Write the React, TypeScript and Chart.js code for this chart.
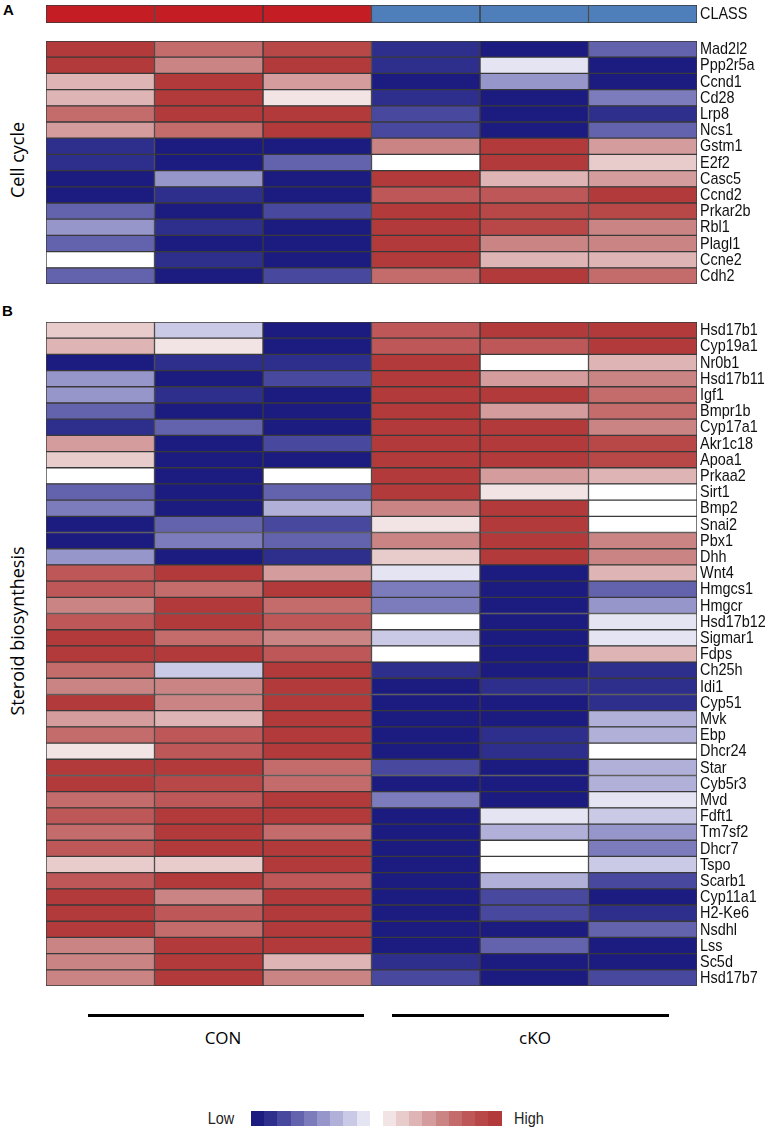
import React, { useEffect, useRef } from "react";
import { Chart, registerables } from "chart.js";

Chart.register(...registerables);

// ---------- data ----------
const SAMPLES = ["CON1", "CON2", "CON3", "cKO1", "cKO2", "cKO3"];
const CLASS_LABELS = ["CLASS"];
const CLASS_GROUPS = ["CON", "CON", "CON", "cKO", "cKO", "cKO"];

const CELL_CYCLE_GENES = [
  "Mad2l2", "Ppp2r5a", "Ccnd1", "Cd28", "Lrp8", "Ncs1", "Gstm1", "E2f2",
  "Casc5", "Ccnd2", "Prkar2b", "Rbl1", "Plagl1", "Ccne2", "Cdh2",
];
// expression level per sample, -9 (low) .. 9 (high)
const CELL_CYCLE_VALUES = [
  [9, 6, 8, -8, -9, -6],
  [9, 5, 9, -8, -1, -9],
  [3, 9, 4, -9, -4, -9],
  [3, 9, 1, -8, -9, -5],
  [6, 9, 9, -7, -9, -8],
  [4, 6, 9, -7, -9, -6],
  [-8, -9, -9, 5, 9, 4],
  [-8, -9, -6, 0, 9, 2],
  [-9, -4, -9, 9, 3, 4],
  [-9, -8, -9, 7, 7, 9],
  [-6, -9, -7, 9, 8, 8],
  [-4, -8, -9, 9, 8, 5],
  [-6, -9, -9, 9, 5, 5],
  [0, -8, -9, 9, 3, 3],
  [-6, -9, -7, 6, 9, 6],
];

const STEROID_GENES = [
  "Hsd17b1", "Cyp19a1", "Nr0b1", "Hsd17b11", "Igf1", "Bmpr1b", "Cyp17a1",
  "Akr1c18", "Apoa1", "Prkaa2", "Sirt1", "Bmp2", "Snai2", "Pbx1", "Dhh",
  "Wnt4", "Hmgcs1", "Hmgcr", "Hsd17b12", "Sigmar1", "Fdps", "Ch25h", "Idi1",
  "Cyp51", "Mvk", "Ebp", "Dhcr24", "Star", "Cyb5r3", "Mvd", "Fdft1", "Tm7sf2",
  "Dhcr7", "Tspo", "Scarb1", "Cyp11a1", "H2-Ke6", "Nsdhl", "Lss", "Sc5d",
  "Hsd17b7",
];
const STEROID_VALUES = [
  [2, -2, -9, 7, 9, 9],
  [3, 1, -9, 7, 7, 9],
  [-9, -8, -8, 9, 0, 3],
  [-4, -9, -7, 9, 4, 5],
  [-4, -8, -9, 9, 9, 6],
  [-6, -9, -9, 9, 4, 6],
  [-8, -6, -9, 9, 9, 5],
  [4, -9, -7, 9, 9, 8],
  [2, -9, -9, 9, 9, 8],
  [0, -9, 0, 9, 4, 3],
  [-6, -9, -6, 9, 1, 0],
  [-5, -9, -3, 5, 9, 0],
  [-9, -6, -7, 1, 9, 0],
  [-9, -5, -6, 5, 9, 5],
  [-4, -9, -8, 2, 9, 5],
  [7, 9, 4, -1, -9, 3],
  [7, 6, 9, -5, -9, -6],
  [5, 9, 6, -5, -9, -4],
  [7, 9, 7, 0, -9, -1],
  [9, 6, 5, -2, -9, -1],
  [9, 9, 7, 0, -9, 3],
  [6, -2, 9, -8, -9, -8],
  [5, 5, 9, -9, -8, -8],
  [9, 5, 9, -9, -9, -8],
  [4, 3, 9, -9, -9, -3],
  [6, 7, 9, -9, -8, -3],
  [1, 7, 9, -9, -8, 0],
  [9, 9, 6, -7, -9, -3],
  [9, 8, 6, -9, -9, -3],
  [6, 7, 9, -5, -9, -1],
  [7, 9, 9, -9, -1, -2],
  [6, 9, 6, -9, -3, -4],
  [7, 9, 9, -9, 0, -5],
  [2, 2, 9, -9, 0, -2],
  [7, 9, 7, -9, -3, -7],
  [9, 5, 9, -9, -7, -9],
  [9, 7, 9, -9, -7, -8],
  [9, 6, 9, -9, -9, -6],
  [5, 9, 9, -9, -6, -9],
  [5, 9, 3, -8, -9, -9],
  [5, 9, 5, -7, -9, -7],
];

// colour scale from level -9 to 9
const PALETTE = [
  "#1b1b80", "#2e2e8c", "#48489e", "#6262ad", "#7c7cbc", "#9696ca",
  "#b0b0d8", "#cacae6", "#e4e4f2", "#ffffff", "#f2e4e4", "#e8cccc",
  "#deb4b4", "#d49c9c", "#ca8484", "#c46c6c", "#be5858", "#b84848",
  "#b33a3a",
];
const CLASS_COLORS: Record<string, string> = { CON: "#c41e24", cKO: "#4f7fba" };

const SANS = "'Liberation Sans', Arial, sans-serif";
const TITLE_FONT = "'Open Sans', 'Noto Sans', sans-serif";
const BORDER = "#3a3a3a";
const NARROW = 0.85;

const colorFor = (v: number) => PALETTE[Math.max(0, Math.min(18, v + 9))];

const narrowLabels = {
  id: "narrowLabels",
  afterDraw(chart: any) {
    const ys = chart.scales.y;
    const ctx = chart.ctx;
    ctx.save();
    ctx.font = `17px ${SANS}`;
    ctx.fillStyle = "#111";
    ctx.textBaseline = "middle";
    ctx.textAlign = "left";
    const x0 = chart.chartArea.right + 3;
    ys.ticks.forEach((_t: any, i: number) => {
      const y = ys.getPixelForTick(i);
      ctx.save();
      ctx.translate(x0, y + 0.5);
      ctx.scale(NARROW, 1);
      ctx.fillText(String(chart.data.labels[i]), 0, 0);
      ctx.restore();
    });
    ctx.restore();
  },
};

type HeatProps = {
  labels: string[];
  colors: string[][]; // [row][col]
  top: number;
  height: number;
};

function HeatChart({ labels, colors, top, height }: HeatProps) {
  const ref = useRef<HTMLCanvasElement | null>(null);
  useEffect(() => {
    if (!ref.current) return;
    const chart = new Chart(ref.current, {
      type: "bar",
      data: {
        labels,
        datasets: SAMPLES.map((s, j) => ({
          label: s,
          data: labels.map(() => 1),
          backgroundColor: colors.map((r) => r[j]),
          borderColor: BORDER,
          borderWidth: 1,
          borderSkipped: false,
          barPercentage: 1,
          categoryPercentage: 1,
        })),
      },
      options: {
        indexAxis: "y",
        animation: false,
        responsive: false,
        maintainAspectRatio: false,
        events: [],
        layout: { padding: { top: 1, bottom: 1, left: 1, right: 0 } },
        plugins: { legend: { display: false }, tooltip: { enabled: false } },
        scales: {
          x: { stacked: true, min: 0, max: SAMPLES.length, display: false },
          y: {
            stacked: true,
            position: "right",
            grid: { display: false },
            border: { display: false },
            ticks: { display: false, autoSkip: false },
            afterFit: (s: any) => {
              s.width = 71;
              s.paddingTop = 0;
              s.paddingBottom = 0;
            },
          },
        },
      },
      plugins: [narrowLabels],
    } as any);
    return () => chart.destroy();
  }, []);
  return (
    <canvas
      ref={ref}
      width={723}
      height={height}
      style={{ position: "absolute", left: 45, top, width: 723, height }}
    />
  );
}

const vText = (txt: string, cx: number, cy: number) => (
  <div
    style={{
      position: "absolute",
      left: cx,
      top: cy,
      transform: "translate(-50%, -50%) rotate(-90deg)",
      whiteSpace: "nowrap",
      fontFamily: TITLE_FONT,
      fontSize: 18,
      color: "#000",
      lineHeight: 1,
    }}
  >
    {txt}
  </div>
);

const narrowHtml = (txt: string, style: React.CSSProperties, origin: string) => (
  <div
    style={{
      position: "absolute",
      fontFamily: SANS,
      fontSize: 17,
      color: "#222",
      whiteSpace: "nowrap",
      lineHeight: 1,
      transformOrigin: origin,
      ...style,
    }}
  >
    {txt}
  </div>
);

export default function App() {
  const classColors = [CLASS_GROUPS.map((g) => CLASS_COLORS[g])];
  const ccColors = CELL_CYCLE_VALUES.map((r) => r.map(colorFor));
  const stColors = STEROID_VALUES.map((r) => r.map(colorFor));
  return (
    <div style={{ position: "absolute", left: 0, top: 0, width: 768, height: 1133, background: "#fff", overflow: "hidden" }}>
      <div style={{ position: "absolute", left: 3, top: 1, fontFamily: SANS, fontWeight: "bold", fontSize: 15 }}>A</div>
      <div style={{ position: "absolute", left: 2, top: 302, fontFamily: SANS, fontWeight: "bold", fontSize: 15 }}>B</div>

      <HeatChart labels={CLASS_LABELS} colors={classColors} top={4} height={20} />
      <HeatChart labels={CELL_CYCLE_GENES} colors={ccColors} top={40} height={245} />
      <HeatChart labels={STEROID_GENES} colors={stColors} top={321} height={666} />

      {vText("Cell cycle", 17, 160)}
      {vText("Steroid biosynthesis", 17, 631)}

      <div style={{ position: "absolute", left: 88, top: 1014, width: 276, height: 3, background: "#000" }} />
      <div style={{ position: "absolute", left: 392, top: 1014, width: 277, height: 3, background: "#000" }} />
      <div style={{ position: "absolute", left: 223, top: 1037, transform: "translate(-50%, -50%)", fontFamily: TITLE_FONT, fontSize: 17 }}>CON</div>
      <div style={{ position: "absolute", left: 535, top: 1037, transform: "translate(-50%, -50%)", fontFamily: TITLE_FONT, fontSize: 17 }}>cKO</div>

      {narrowHtml("Low", { right: 768 - 234, top: 1110, transform: `scaleX(${NARROW})` }, "right center")}
      <div style={{ position: "absolute", left: 251, top: 1111, height: 15, display: "flex" }}>
        {PALETTE.map((c, i) => (
          <div key={i} style={{ width: 13.2, height: 15, background: c }} />
        ))}
      </div>
      {narrowHtml("High", { left: 514, top: 1110, transform: `scaleX(${NARROW})` }, "left center")}
    </div>
  );
}
